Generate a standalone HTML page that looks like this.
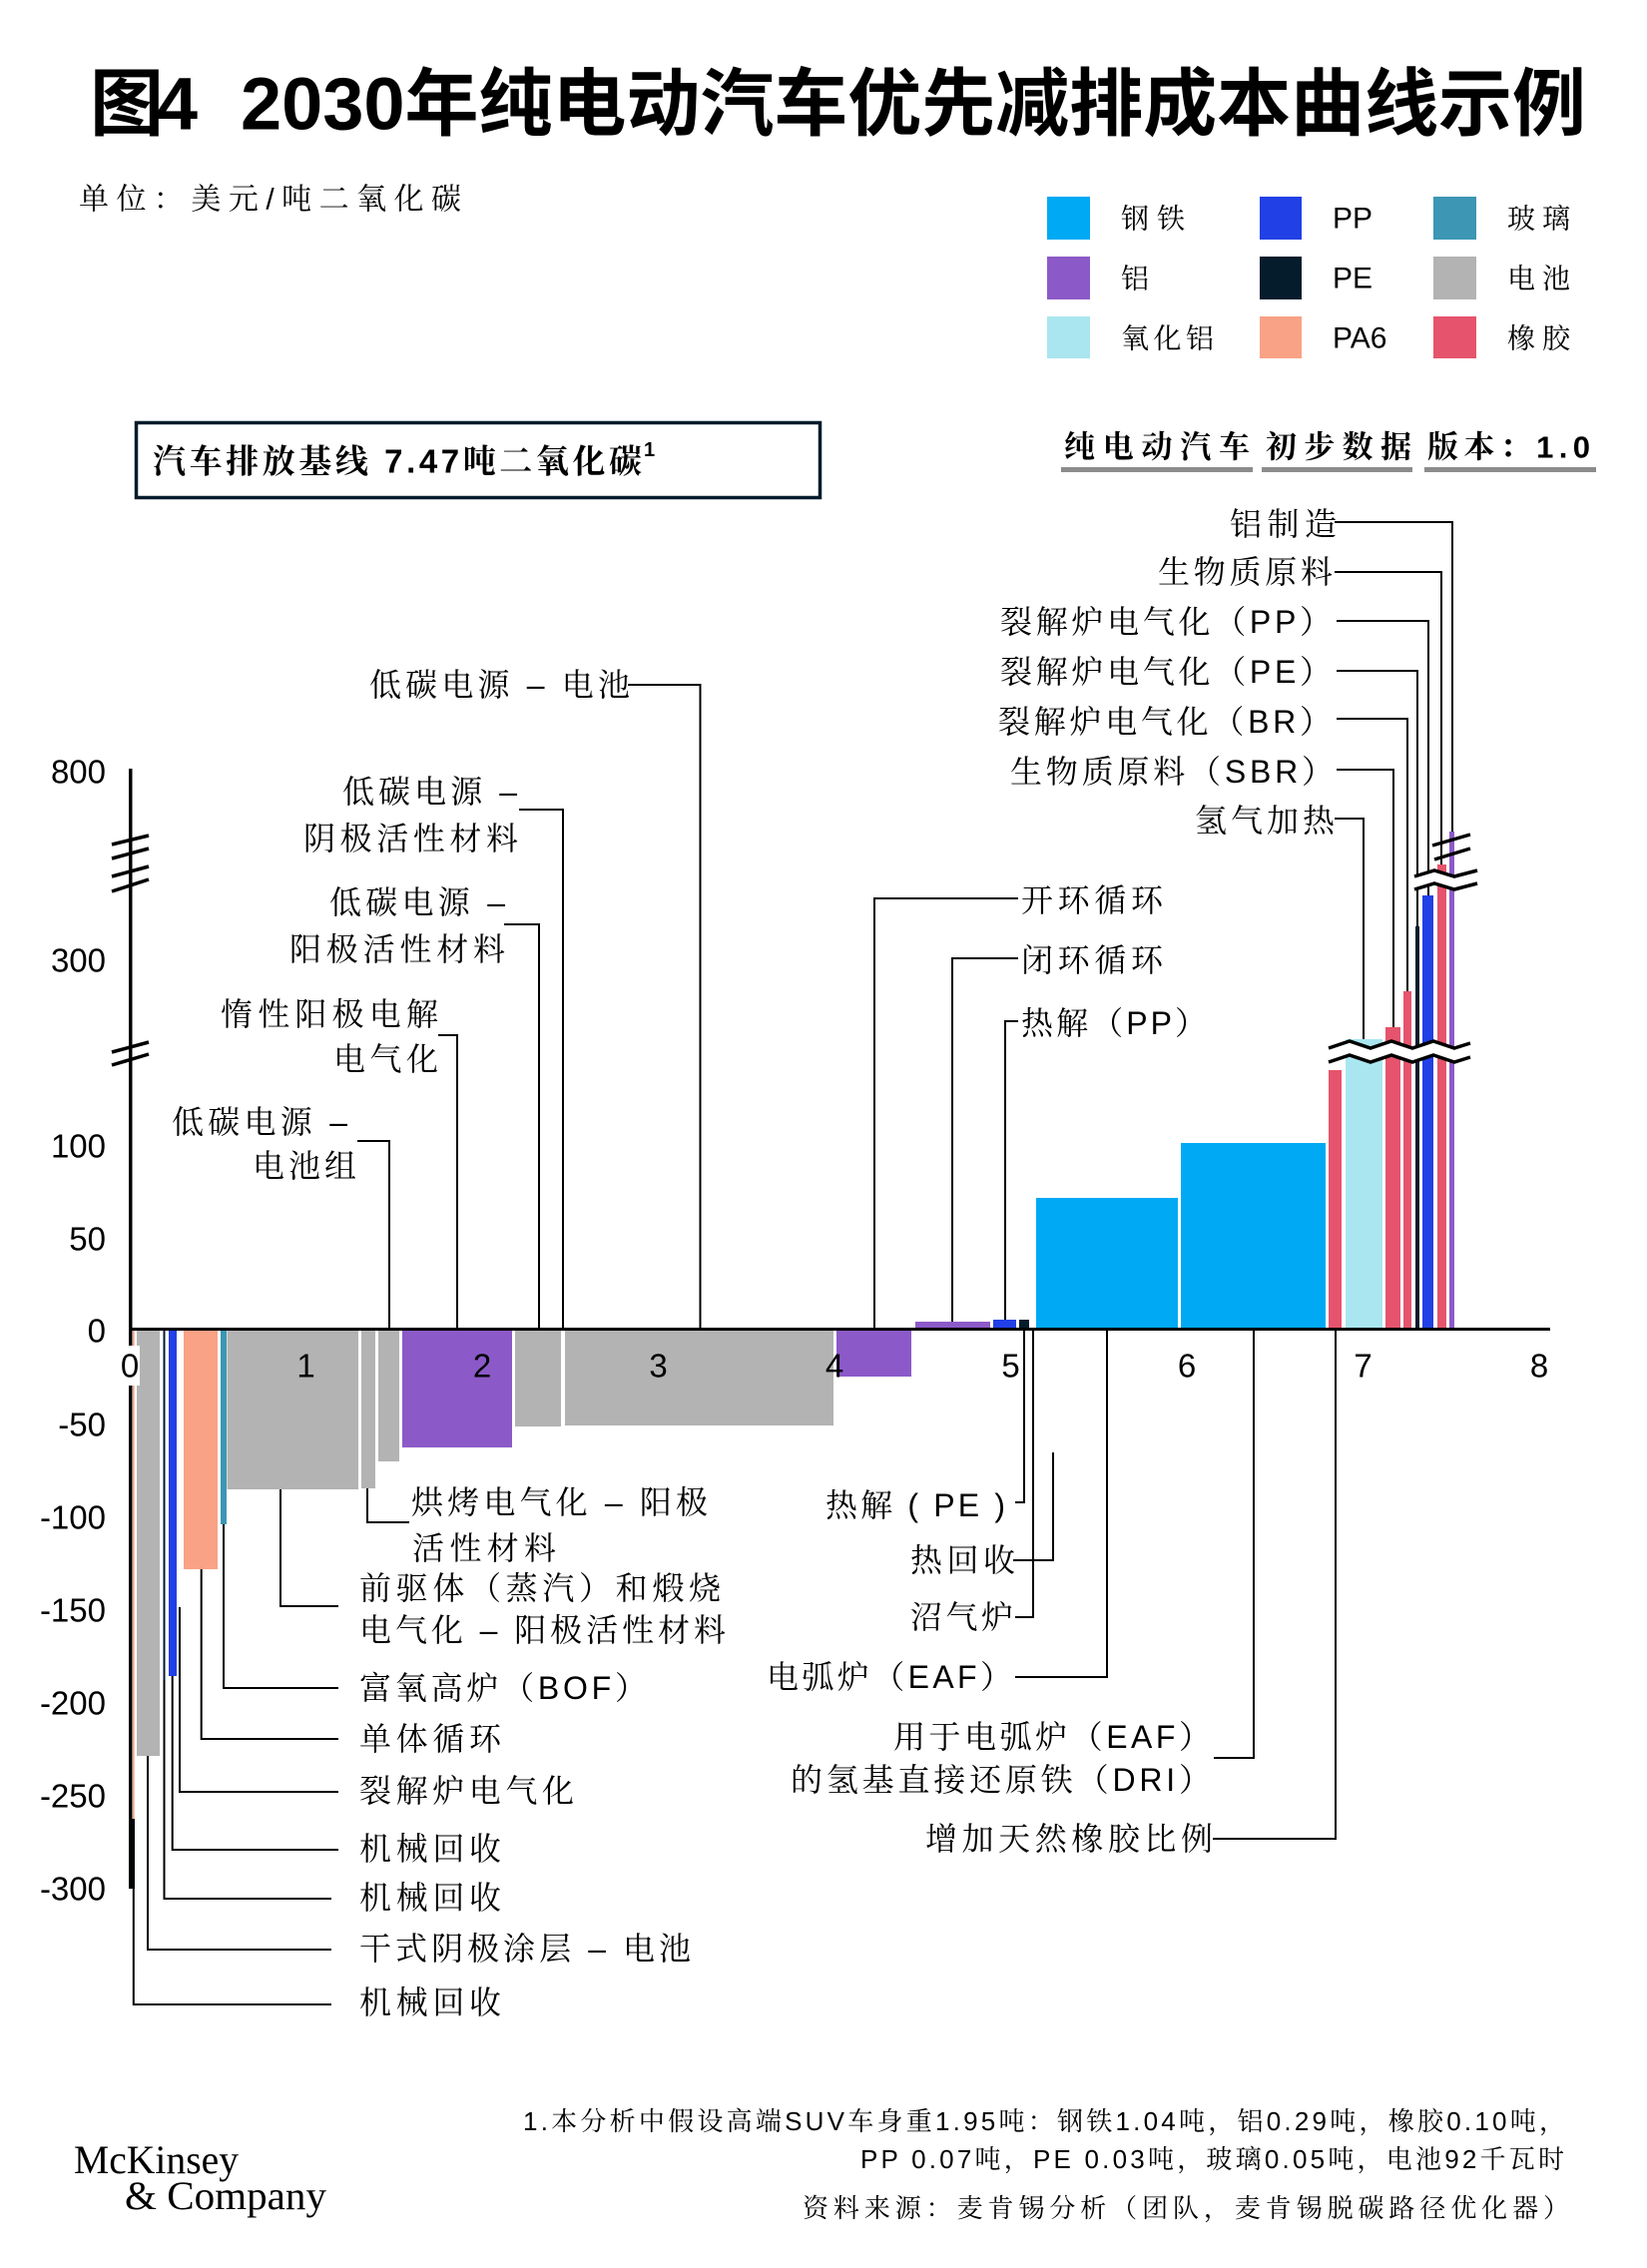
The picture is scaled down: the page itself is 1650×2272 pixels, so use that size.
<!DOCTYPE html>
<html><head><meta charset="utf-8">
<style>
html,body{margin:0;padding:0;background:#fff;}
svg{display:block;}
text{font-family:"Liberation Sans","Noto Serif CJK SC",serif;fill:#000;}
.t{font-size:32px;}
.ax{font-size:33px;font-family:"Liberation Sans",sans-serif;}
.b{font-weight:700;}
</style></head>
<body>
<svg width="1650" height="2272" viewBox="0 0 1650 2272" xmlns="http://www.w3.org/2000/svg">
<rect width="1650" height="2272" fill="#fff"/>

<!-- Title -->
<text x="90" y="104" dominant-baseline="central" font-size="74" font-weight="700" style="font-family:'Liberation Sans','Noto Sans CJK SC',sans-serif" textLength="108" lengthAdjust="spacing">图4</text>
<text x="241" y="104" dominant-baseline="central" font-size="74" font-weight="700" style="font-family:'Liberation Sans','Noto Sans CJK SC',sans-serif" textLength="1348" lengthAdjust="spacing">2030年纯电动汽车优先减排成本曲线示例</text>

<text x="79" y="200" dominant-baseline="central" font-size="30" textLength="383" lengthAdjust="spacing">单位：美元/吨二氧化碳</text>

<!-- Legend -->
<rect x="1049" y="197" width="43" height="43" fill="#00A9F4"/>
<rect x="1049" y="257" width="43" height="43" fill="#8C5AC8"/>
<rect x="1049" y="317" width="43" height="42" fill="#AAE6F0"/>
<rect x="1262" y="197" width="42" height="43" fill="#2140E6"/>
<rect x="1262" y="257" width="42" height="43" fill="#051C2C"/>
<rect x="1262" y="317" width="42" height="42" fill="#F9A285"/>
<rect x="1436" y="197" width="43" height="43" fill="#3C96B4"/>
<rect x="1436" y="257" width="43" height="43" fill="#B3B3B3"/>
<rect x="1436" y="317" width="43" height="42" fill="#E5546C"/>
<text x="1123" y="219" dominant-baseline="central" font-size="28" textLength="64" lengthAdjust="spacing">钢铁</text>
<text x="1123" y="279" dominant-baseline="central" font-size="28">铝</text>
<text x="1123" y="339" dominant-baseline="central" font-size="28" textLength="93" lengthAdjust="spacing">氧化铝</text>
<text x="1335" y="219" dominant-baseline="central" font-size="30">PP</text>
<text x="1335" y="279" dominant-baseline="central" font-size="30">PE</text>
<text x="1335" y="339" dominant-baseline="central" font-size="30">PA6</text>
<text x="1510" y="219" dominant-baseline="central" font-size="28" textLength="63" lengthAdjust="spacing">玻璃</text>
<text x="1510" y="279" dominant-baseline="central" font-size="28" textLength="63" lengthAdjust="spacing">电池</text>
<text x="1510" y="339" dominant-baseline="central" font-size="28" textLength="63" lengthAdjust="spacing">橡胶</text>

<!-- Baseline box -->
<rect x="136.5" y="423.5" width="685" height="75" fill="none" stroke="#051C2C" stroke-width="3.5"/>
<text x="153" y="462" dominant-baseline="central" font-size="33" class="b" textLength="490" lengthAdjust="spacing">汽车排放基线 7.47吨二氧化碳</text>
<text x="645" y="451" dominant-baseline="central" font-size="20" class="b">1</text>

<!-- Header -->
<text x="1066" y="448" dominant-baseline="central" font-size="31" class="b" textLength="186" lengthAdjust="spacing">纯电动汽车</text>
<text x="1268" y="448" dominant-baseline="central" font-size="31" class="b" textLength="146" lengthAdjust="spacing">初步数据</text>
<text x="1430" y="448" dominant-baseline="central" font-size="31" class="b" textLength="163" lengthAdjust="spacing">版本：1.0</text>
<rect x="1063" y="468" width="192" height="5" fill="#8C8C8C"/>
<rect x="1264" y="468" width="151" height="5" fill="#8C8C8C"/>
<rect x="1427" y="468" width="172" height="5" fill="#8C8C8C"/>

<!-- Negative bars -->
<rect x="133" y="1333" width="1.6" height="489" fill="#F9A285"/>
<rect x="131" y="1822" width="4" height="70" fill="#051C2C"/>
<rect x="137" y="1333" width="23" height="426" fill="#B3B3B3"/>
<rect x="163.5" y="1333" width="2" height="350" fill="#051C2C"/>
<rect x="169" y="1333" width="8" height="346" fill="#2140E6"/>
<rect x="184" y="1333" width="34" height="239" fill="#F9A285"/>
<rect x="221" y="1333" width="6" height="194" fill="#3C96B4"/>
<rect x="227.5" y="1333" width="131.5" height="159" fill="#B3B3B3"/>
<rect x="362" y="1333" width="14" height="158" fill="#B3B3B3"/>
<rect x="379" y="1333" width="21" height="131" fill="#B3B3B3"/>
<rect x="403" y="1333" width="110" height="117" fill="#8C5AC8"/>
<rect x="516" y="1333" width="46" height="96" fill="#B3B3B3"/>
<rect x="566" y="1333" width="269" height="95" fill="#B3B3B3"/>
<rect x="838" y="1333" width="75" height="46" fill="#8C5AC8"/>

<!-- Positive bars -->
<rect x="917" y="1324" width="75" height="7" fill="#8C5AC8"/>
<rect x="995" y="1322" width="23" height="9" fill="#2140E6"/>
<rect x="1021" y="1322" width="10" height="9" fill="#051C2C"/>
<rect x="1038" y="1200" width="142" height="131" fill="#00A9F4"/>
<rect x="1183" y="1145" width="145" height="186" fill="#00A9F4"/>
<rect x="1331" y="1072" width="13" height="259" fill="#E5546C"/>
<rect x="1348" y="1041" width="37" height="290" fill="#AAE6F0"/>
<rect x="1388" y="1029" width="15" height="302" fill="#E5546C"/>
<rect x="1406" y="993" width="8" height="338" fill="#E5546C"/>
<rect x="1418" y="928" width="4" height="403" fill="#051C2C"/>
<rect x="1425" y="897" width="11" height="434" fill="#2140E6"/>
<rect x="1440" y="866" width="9" height="465" fill="#E5546C"/>
<rect x="1452" y="833" width="5" height="498" fill="#8C5AC8"/>

<!-- Axes -->
<rect x="129" y="770" width="3.5" height="1122" fill="#000"/>
<rect x="130" y="1330" width="1423" height="3" fill="#000"/>

<!-- Axis breaks left -->
<g stroke="#000" stroke-width="3.5" fill="none">
<line x1="112" y1="846" x2="149" y2="837"/>
<line x1="112" y1="860" x2="149" y2="850"/>
<line x1="112" y1="878" x2="149" y2="868"/>
<line x1="112" y1="893" x2="149" y2="881"/>
<line x1="112" y1="1054" x2="149" y2="1044"/>
<line x1="112" y1="1067" x2="149" y2="1056"/>
</g>

<!-- Leader lines -->
<g stroke="#000" stroke-width="2" fill="none">
<polyline points="629,686 701.5,686 701.5,1330"/>
<polyline points="520,811 564,811 564,1330"/>
<polyline points="505,926 540,926 540,1330"/>
<polyline points="439,1037 458,1037 458,1330"/>
<polyline points="358,1143 390,1143 390,1330"/>
<polyline points="1020,900 876,900 876,1330"/>
<polyline points="1020,960 954,960 954,1324"/>
<polyline points="1020,1023 1007,1023 1007,1322"/>
<polyline points="1337,523 1455,523 1455,833"/>
<polyline points="1337,573 1444,573 1444,866"/>
<polyline points="1339,622 1431,622 1431,897"/>
<polyline points="1339,672 1420,672 1420,928"/>
<polyline points="1339,720 1410,720 1410,993"/>
<polyline points="1339,771 1396,771 1396,1029"/>
<polyline points="1337,820 1366,820 1366,1041"/>
<polyline points="1017,1505 1026,1505 1026,1333"/>
<polyline points="1015,1563 1055,1563 1055,1455"/>
<polyline points="1017,1620 1035,1620 1035,1333"/>
<polyline points="1017,1680 1109,1680 1109,1333"/>
<polyline points="1216,1761 1256,1761 1256,1333"/>
<polyline points="1215,1842 1338,1842 1338,1333"/>
<polyline points="368,1491 368,1525 410,1525"/>
<polyline points="281,1492 281,1609 339,1609"/>
<polyline points="224,1527 224,1691 339,1691"/>
<polyline points="201.7,1572 201.7,1742 339,1742"/>
<polyline points="180,1610 180,1795 339,1795"/>
<polyline points="172.7,1679 172.7,1853 339,1853"/>
<polyline points="164.5,1683 164.5,1902 332,1902"/>
<polyline points="148,1759 148,1953 332,1953"/>
<polyline points="133.8,1822 133.8,2008 332,2008"/>
</g>

<!-- Right breaks -->
<polygon points="1331,1050 1352,1043 1373,1050 1394,1043 1415,1050 1436,1043 1457,1050 1473,1045 1473,1059 1457,1064 1436,1057 1415,1064 1394,1057 1373,1064 1352,1057 1331,1064" fill="#fff"/>
<g stroke="#000" stroke-width="3.5" fill="none">
<polyline points="1331,1050 1352,1043 1373,1050 1394,1043 1415,1050 1436,1043 1457,1050 1473,1045"/>
<polyline points="1331,1064 1352,1057 1373,1064 1394,1057 1415,1064 1436,1057 1457,1064 1473,1059"/>
</g>
<polygon points="1417,878 1437,872 1457,878 1480,872 1480,885 1457,891 1437,885 1417,891" fill="#fff"/>
<g stroke="#000" stroke-width="3.5" fill="none">
<polyline points="1417,878 1437,872 1457,878 1480,872"/>
<polyline points="1417,891 1437,885 1457,891 1480,885"/>
<line x1="1435" y1="847" x2="1473" y2="836"/>
<line x1="1437" y1="861" x2="1473" y2="850"/>
</g>

<!-- Y axis labels -->
<g class="ax" text-anchor="end">
<text x="106" y="773" dominant-baseline="central">800</text>
<text x="106" y="962" dominant-baseline="central">300</text>
<text x="106" y="1148" dominant-baseline="central">100</text>
<text x="106" y="1241" dominant-baseline="central">50</text>
<text x="106" y="1333" dominant-baseline="central">0</text>
<text x="106" y="1427" dominant-baseline="central">-50</text>
<text x="106" y="1520" dominant-baseline="central">-100</text>
<text x="106" y="1613" dominant-baseline="central">-150</text>
<text x="106" y="1706" dominant-baseline="central">-200</text>
<text x="106" y="1799" dominant-baseline="central">-250</text>
<text x="106" y="1892" dominant-baseline="central">-300</text>
</g>

<!-- X axis labels -->
<rect x="120" y="1348" width="20" height="40" fill="#fff"/>
<g class="ax" text-anchor="middle">
<text x="130" y="1368" dominant-baseline="central">0</text>
<text x="306.5" y="1368" dominant-baseline="central">1</text>
<text x="483" y="1368" dominant-baseline="central">2</text>
<text x="659.5" y="1368" dominant-baseline="central">3</text>
<text x="836" y="1368" dominant-baseline="central">4</text>
<text x="1012.5" y="1368" dominant-baseline="central">5</text>
<text x="1189" y="1368" dominant-baseline="central">6</text>
<text x="1365.5" y="1368" dominant-baseline="central">7</text>
<text x="1542" y="1368" dominant-baseline="central">8</text>
</g>

<!-- Upper-left labels -->
<g class="t">
<text x="370" y="686" dominant-baseline="central" textLength="261" lengthAdjust="spacing">低碳电源 – 电池</text>
<text x="343" y="793" dominant-baseline="central" textLength="175" lengthAdjust="spacing">低碳电源 –</text>
<text x="304" y="840" dominant-baseline="central" textLength="215" lengthAdjust="spacing">阴极活性材料</text>
<text x="330" y="904" dominant-baseline="central" textLength="176" lengthAdjust="spacing">低碳电源 –</text>
<text x="290" y="951" dominant-baseline="central" textLength="216" lengthAdjust="spacing">阳极活性材料</text>
<text x="221" y="1016" dominant-baseline="central" textLength="218" lengthAdjust="spacing">惰性阳极电解</text>
<text x="334" y="1061" dominant-baseline="central" textLength="105" lengthAdjust="spacing">电气化</text>
<text x="172" y="1124" dominant-baseline="central" textLength="176" lengthAdjust="spacing">低碳电源 –</text>
<text x="253" y="1168" dominant-baseline="central" textLength="104" lengthAdjust="spacing">电池组</text>
</g>

<!-- Right labels -->
<g class="t">
<text x="1232" y="525" dominant-baseline="central" textLength="107" lengthAdjust="spacing">铝制造</text>
<text x="1160" y="573" dominant-baseline="central" textLength="175" lengthAdjust="spacing">生物质原料</text>
<text x="1002" y="623" dominant-baseline="central" textLength="332" lengthAdjust="spacing">裂解炉电气化（PP）</text>
<text x="1002" y="673" dominant-baseline="central" textLength="332" lengthAdjust="spacing">裂解炉电气化（PE）</text>
<text x="1000" y="723" dominant-baseline="central" textLength="334" lengthAdjust="spacing">裂解炉电气化（BR）</text>
<text x="1012" y="773" dominant-baseline="central" textLength="324" lengthAdjust="spacing">生物质原料（SBR）</text>
<text x="1197" y="822" dominant-baseline="central" textLength="140" lengthAdjust="spacing">氢气加热</text>
<text x="1023" y="902" dominant-baseline="central" textLength="142" lengthAdjust="spacing">开环循环</text>
<text x="1023" y="962" dominant-baseline="central" textLength="142" lengthAdjust="spacing">闭环循环</text>
<text x="1023" y="1025" dominant-baseline="central" textLength="186" lengthAdjust="spacing">热解（PP）</text>
</g>

<!-- Lower-middle labels -->
<g class="t">
<text x="827" y="1508" dominant-baseline="central" textLength="180" lengthAdjust="spacing">热解 ( PE )</text>
<text x="912" y="1563" dominant-baseline="central" textLength="105" lengthAdjust="spacing">热回收</text>
<text x="912" y="1620" dominant-baseline="central" textLength="103" lengthAdjust="spacing">沼气炉</text>
<text x="768" y="1680" dominant-baseline="central" textLength="246" lengthAdjust="spacing">电弧炉（EAF）</text>
<text x="895" y="1740" dominant-baseline="central" textLength="318" lengthAdjust="spacing">用于电弧炉（EAF）</text>
<text x="792" y="1783" dominant-baseline="central" textLength="421" lengthAdjust="spacing">的氢基直接还原铁（DRI）</text>
<text x="927" y="1842" dominant-baseline="central" textLength="288" lengthAdjust="spacing">增加天然橡胶比例</text>
</g>

<!-- Lower-left labels -->
<g class="t">
<text x="412" y="1505" dominant-baseline="central" textLength="297" lengthAdjust="spacing">烘烤电气化 – 阳极</text>
<text x="413" y="1551" dominant-baseline="central" textLength="144" lengthAdjust="spacing">活性材料</text>
<text x="360" y="1591" dominant-baseline="central" textLength="362" lengthAdjust="spacing">前驱体（蒸汽）和煅烧</text>
<text x="360" y="1633" dominant-baseline="central" textLength="367" lengthAdjust="spacing">电气化 – 阳极活性材料</text>
<text x="360" y="1691" dominant-baseline="central" textLength="288" lengthAdjust="spacing">富氧高炉（BOF）</text>
<text x="360" y="1742" dominant-baseline="central" textLength="142" lengthAdjust="spacing">单体循环</text>
<text x="360" y="1794" dominant-baseline="central" textLength="215" lengthAdjust="spacing">裂解炉电气化</text>
<text x="360" y="1852" dominant-baseline="central" textLength="142" lengthAdjust="spacing">机械回收</text>
<text x="360" y="1901" dominant-baseline="central" textLength="142" lengthAdjust="spacing">机械回收</text>
<text x="360" y="1952" dominant-baseline="central" textLength="332" lengthAdjust="spacing">干式阴极涂层 – 电池</text>
<text x="360" y="2006" dominant-baseline="central" textLength="142" lengthAdjust="spacing">机械回收</text>
</g>

<!-- Footer -->
<g font-size="26">
<text x="524" y="2125" dominant-baseline="central" textLength="1044" lengthAdjust="spacing">1.本分析中假设高端SUV车身重1.95吨：钢铁1.04吨，铝0.29吨，橡胶0.10吨，</text>
<text x="862" y="2163" dominant-baseline="central" textLength="705" lengthAdjust="spacing">PP 0.07吨，PE 0.03吨，玻璃0.05吨，电池92千瓦时</text>
<text x="804" y="2212" dominant-baseline="central" textLength="768" lengthAdjust="spacing">资料来源：麦肯锡分析（团队，麦肯锡脱碳路径优化器）</text>
</g>
<text x="74" y="2177" font-size="40" style="font-family:'Liberation Serif',serif" textLength="165" lengthAdjust="spacingAndGlyphs">McKinsey</text>
<text x="125" y="2213" font-size="40" style="font-family:'Liberation Serif',serif" textLength="202" lengthAdjust="spacingAndGlyphs">&amp; Company</text>
</svg>
</body></html>
